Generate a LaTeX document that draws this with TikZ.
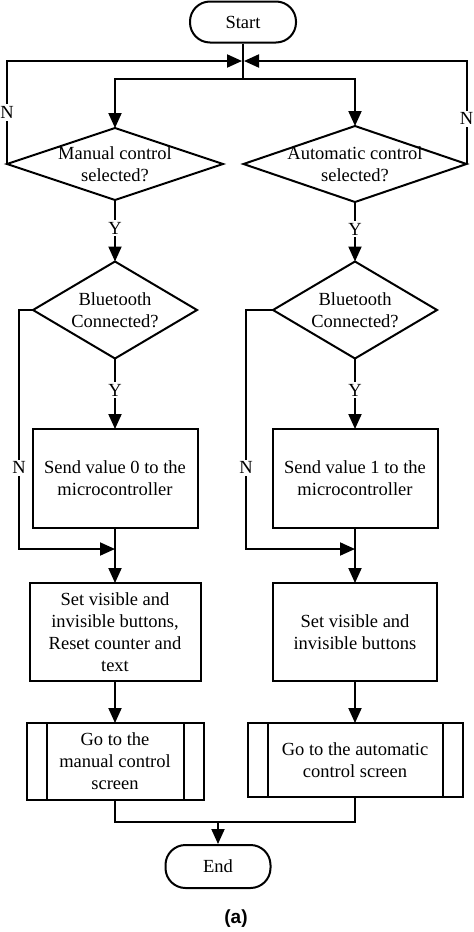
\documentclass[tikz,border=0pt]{standalone}
\usepackage{fontspec}
\setmainfont{Liberation Serif}
\newfontfamily\capfont{Liberation Sans}
\usetikzlibrary{arrows.meta,calc}

\begin{document}
\begin{tikzpicture}[x=1pt,y=-1pt,line width=2pt,
    every node/.style={font=\fontsize{18.5}{22}\selectfont},
    arrow/.style={-{Triangle[length=15pt,width=13pt]}},
    terminal/.style={draw,rounded corners=20pt,minimum width=106pt,minimum height=41pt},
    decision/.style={align=center,inner sep=0pt,outer sep=0pt},
    process/.style={draw,align=center,inner sep=2pt,outer sep=0pt},
    lbl/.style={fill=white,inner sep=2pt}]
    \useasboundingbox (0,0) rectangle (474,932);
    % Start and choice of mode
    \node[terminal] (start) at (243,22) {Start};
    \coordinate (join) at (243,61);
    \coordinate (split) at (243,79);
    \node[decision,minimum width=216pt,minimum height=72pt] (mansel) at (115,164) {Manual control\\selected?};
    \node[decision,minimum width=223pt,minimum height=76pt] (autsel) at (355,164) {Automatic control\\selected?};
    % Bluetooth checks
    \node[decision,minimum width=164pt,minimum height=97pt] (btl) at (115,310) {Bluetooth\\Connected?};
    \node[decision,minimum width=164pt,minimum height=97pt] (btr) at (355,310) {Bluetooth\\Connected?};
    % Process boxes
    \node[process,minimum width=165pt,minimum height=99pt] (sendl) at (115,478.5) {Send value 0 to the\\microcontroller};
    \node[process,minimum width=165pt,minimum height=99pt] (sendr) at (355,478.5) {Send value 1 to the\\microcontroller};
    \coordinate (mergel) at (115,549);
    \coordinate (merger) at (355,549);
    \node[process,minimum width=171pt,minimum height=98pt] (setl) at (115,632) {Set visible and\\invisible buttons,\\Reset counter and\\text};
    \node[process,minimum width=164pt,minimum height=98pt] (setr) at (355,632) {Set visible and\\invisible buttons};
    \node[process,minimum width=177pt,minimum height=77pt] (gol) at (115,761.5) {Go to the\\manual control\\screen};
    \node[process,minimum width=215pt,minimum height=74pt] (gor) at (355,760) {Go to the automatic\\control screen};
    \coordinate (mend) at (218,822);
    \node[terminal,minimum width=105pt,minimum height=43pt] (end) at (218,866.5) {End};
    \node[font=\fontsize{19}{22}\selectfont\capfont\bfseries] (cap) at (236,919) {(a)};
    % Diamond outlines and subroutine bars
    \foreach \d in {mansel,autsel,btl,btr}
        \draw (\d.north) -- (\d.east) -- (\d.south) -- (\d.west) -- cycle;
    \foreach \g in {gol,gor} {
        \draw ([xshift=20pt]\g.north west) -- ([xshift=20pt]\g.south west);
        \draw ([xshift=-20pt]\g.north east) -- ([xshift=-20pt]\g.south east);
    }
    % Connectors
    \draw (start.south) -- (split);
    \draw[arrow] (split) -| (mansel.north);
    \draw[arrow] (split) -| (autsel.north);
    \draw[arrow,shorten >=1pt] (mansel.west) |- node[lbl,pos=0.25] {N} (join);
    \draw[arrow,shorten >=1pt] (autsel.east) |- node[lbl,pos=0.22] {N} (join);
    \draw[arrow] (mansel.south) -- node[lbl,pos=0.46] {Y} (btl.north);
    \draw[arrow] (autsel.south) -- node[lbl,pos=0.46] {Y} (btr.north);
    \draw[arrow] (btl.south) -- node[lbl,pos=0.45] {Y} (sendl.north);
    \draw[arrow] (btr.south) -- node[lbl,pos=0.45] {Y} (sendr.north);
    \draw[arrow] (btl.west) -- ++(-14,0) |- node[lbl,pos=0.33] {N} (mergel);
    \draw[arrow] (btr.west) -- ++(-27,0) |- node[lbl,pos=0.33] {N} (merger);
    \draw[arrow] (sendl.south) -- (setl.north);
    \draw[arrow] (sendr.south) -- (setr.north);
    \draw[arrow] (setl.south) -- (gol.north);
    \draw[arrow] (setr.south) -- (gor.north);
    \draw (gol.south) |- (mend) -| (gor.south);
    \draw[arrow] (mend) -- (end.north);
\end{tikzpicture}
\end{document}
